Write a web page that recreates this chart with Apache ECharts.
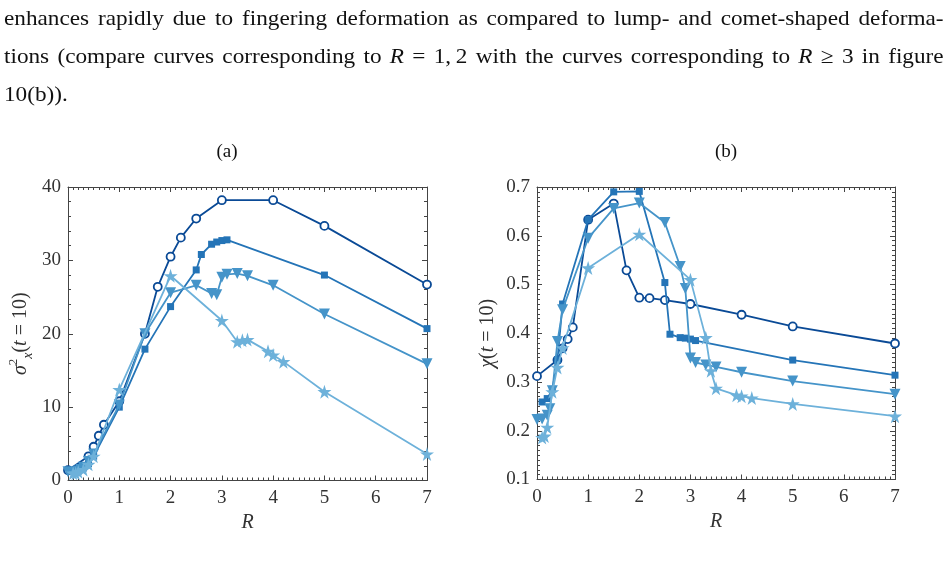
<!DOCTYPE html>
<html>
<head>
<meta charset="utf-8">
<script src="https://cdn.jsdelivr.net/npm/echarts@6/dist/echarts.min.js"></script>
<style>
  html, body { margin: 0; padding: 0; background: #fff; overflow: hidden; }
  #page { position: relative; width: 948px; height: 563px; }
  #chart { position: absolute; left: 0; top: 0; width: 948px; height: 563px; }
  #text { position: absolute; left: 4px; top: -1px; width: 870px;
          transform: scaleX(1.08); transform-origin: 0 0;
          font-family: 'Liberation Serif', serif; font-size: 21.5px; line-height: 38px;
          color: #111; }
  #text .j { text-align: justify; text-align-last: justify; white-space: nowrap; }
</style>
</head>
<body>
<div id="page">
  <div id="chart"></div>
  <div id="text">
    <div class="j">enhances rapidly due to fingering deformation as compared to lump- and comet-shaped deforma-</div>
    <div class="j">tions (compare curves corresponding to <i>R</i> = 1,&#8201;2 with the curves corresponding to <i>R</i> ≥ 3 in figure</div>
    <div>10(b)).</div>
  </div>
</div>
<script>
// R values of each curve
const rCircle   = [0, 0.4, 0.5, 0.6, 0.7, 1, 1.5, 1.75, 2, 2.2, 2.5, 3, 4, 5, 7];
const rSquare   = [0.1, 0.2, 0.3, 0.4, 0.5, 1, 1.5, 2, 2.5, 2.6, 2.8, 2.9, 3, 3.1, 5, 7];
const rTriangle = [0, 0.1, 0.2, 0.25, 0.3, 0.4, 0.5, 1, 1.5, 2, 2.5, 2.8, 2.9, 3, 3.1, 3.3, 3.5, 4, 5, 7];
const rStar     = [0.1, 0.15, 0.2, 0.3, 0.4, 0.5, 1, 2, 3, 3.3, 3.4, 3.5, 3.9, 4, 4.2, 5, 7];

// (a) sigma_x^2(t=10)
const sigCircle   = [1.4, 3.3, 4.6, 6.1, 7.6, 10.8, 20.0, 26.4, 30.5, 33.1, 35.7, 38.2, 38.2, 34.7, 26.7];
const sigSquare   = [1.2, 1.3, 1.7, 2.3, 3.3, 10.0, 17.9, 23.7, 28.7, 30.8, 32.2, 32.5, 32.7, 32.8, 28.0, 20.7];
const sigTriangle = [1.2, 1.1, 1.3, 1.5, 1.8, 2.6, 3.6, 10.3, 20.0, 25.6, 26.6, 25.5, 25.3, 27.7, 28.1, 28.2, 27.9, 26.6, 22.7, 15.9];
const sigStar     = [1.0, 1.0, 1.2, 1.5, 2.2, 3.3, 12.4, 27.9, 21.8, 18.9, 19.1, 19.2, 17.6, 17.1, 16.2, 12.1, 3.6];

// (b) chi(t=10)
const chiCircle   = [0.312, 0.345, 0.369, 0.388, 0.412, 0.633, 0.666, 0.529, 0.473, 0.472, 0.468, 0.460, 0.438, 0.414, 0.379];
const chiSquare   = [0.259, 0.266, 0.285, 0.345, 0.460, 0.633, 0.690, 0.691, 0.504, 0.398, 0.391, 0.390, 0.388, 0.385, 0.345, 0.314];
const chiTriangle = [0.223, 0.224, 0.232, 0.245, 0.282, 0.383, 0.448, 0.595, 0.656, 0.667, 0.627, 0.537, 0.492, 0.349, 0.340, 0.335, 0.331, 0.320, 0.302, 0.275];
const chiStar     = [0.186, 0.189, 0.207, 0.280, 0.330, 0.370, 0.534, 0.603, 0.510, 0.391, 0.323, 0.287, 0.273, 0.271, 0.267, 0.255, 0.230];

const xTicks = [0, 1, 2, 3, 4, 5, 6, 7];

const colors = ['#0a4a96', '#2474b7', '#4594c9', '#6db1da'];
const starPath = 'path://M50,0 L61,35 L98,35 L68,57 L79,91 L50,70 L21,91 L32,57 L2,35 L39,35 Z';
const serif = 'Liberation Serif';
const axisColor = '#444';

function pairs(xs, ys) { return xs.map((x, i) => [x, ys[i]]); }

function makeX(grid, pos, show) {
  return {
    type: 'value', gridIndex: grid, position: pos, min: 0, max: 7, interval: 1,
    axisLine: { show: true, onZero: false, lineStyle: { color: axisColor, width: 1 } },
    axisTick: { show: true, inside: true, length: 5, lineStyle: { color: axisColor } },
    minorTick: { show: true, splitNumber: 10, length: 3, lineStyle: { color: axisColor } },
    splitLine: { show: false },
    axisLabel: { show: show, margin: 8, fontFamily: serif, fontSize: 19, color: '#333',
      formatter: v => xTicks.includes(v) ? String(v) : '' },
    name: show ? 'R' : '', nameLocation: 'middle', nameGap: 30,
    nameTextStyle: { fontFamily: serif, fontStyle: 'italic', fontSize: 20, color: '#333' }
  };
}

function makeY(grid, pos, show, min, max, interval, minorSplit, fmt, name, gap) {
  return {
    type: 'value', gridIndex: grid, position: pos, min: min, max: max, interval: interval,
    axisLine: { show: true, onZero: false, lineStyle: { color: axisColor, width: 1 } },
    axisTick: { show: true, inside: true, length: 5, lineStyle: { color: axisColor } },
    minorTick: { show: true, splitNumber: minorSplit, length: 3, lineStyle: { color: axisColor } },
    splitLine: { show: false },
    axisLabel: { show: show, margin: 7, fontFamily: serif, fontSize: 19, color: '#333', formatter: fmt },
    name: show ? name : '', nameLocation: 'middle', nameGap: gap, nameRotate: 90,
    nameTextStyle: {
      fontFamily: serif, fontSize: 20, color: '#333',
      rich: {
        n: { fontFamily: serif, fontSize: 20, color: '#333', lineHeight: 28 },
        i: { fontFamily: serif, fontStyle: 'italic', fontSize: 20, color: '#333', lineHeight: 28 },
        sup: { fontFamily: serif, fontSize: 13, color: '#333', lineHeight: 28, verticalAlign: 'top' },
        sub: { fontFamily: serif, fontStyle: 'italic', fontSize: 14, color: '#333', lineHeight: 28, verticalAlign: 'bottom' }
      }
    }
  };
}

function lineSeries(xi, yi, data, k) {
  const s = {
    type: 'line', xAxisIndex: xi, yAxisIndex: yi, data: data,
    showAllSymbol: true,
    lineStyle: { color: colors[k], width: 1.8 },
    itemStyle: { color: colors[k] },
    animation: false, silent: true, z: 2 + k
  };
  if (k === 0) {
    s.symbol = 'circle'; s.symbolSize = 8;
    s.itemStyle = { color: '#fff', borderColor: colors[k], borderWidth: 1.8 };
  } else if (k === 1) {
    s.symbol = 'rect'; s.symbolSize = 7;
  } else if (k === 2) {
    s.symbol = 'triangle'; s.symbolSize = 11; s.symbolRotate = 180;
  } else {
    s.symbol = starPath; s.symbolSize = 14;
  }
  return s;
}

const chart = echarts.init(document.getElementById('chart'), null, { renderer: 'canvas' });
chart.setOption({
  backgroundColor: '#fff',
  animation: false,
  title: [
    { text: '(a)', left: 222, top: 138, textAlign: 'center',
      textStyle: { fontFamily: serif, fontSize: 19, fontWeight: 'normal', color: '#111' } },
    { text: '(b)', left: 721, top: 138, textAlign: 'center',
      textStyle: { fontFamily: serif, fontSize: 19, fontWeight: 'normal', color: '#111' } }
  ],
  grid: [
    { left: 68, top: 187, width: 359, height: 293.5 },
    { left: 537, top: 187, width: 358, height: 292.5 }
  ],
  xAxis: [
    makeX(0, 'bottom', true), makeX(0, 'top', false),
    makeX(1, 'bottom', true), makeX(1, 'top', false)
  ],
  yAxis: [
    makeY(0, 'left', true, 0, 40, 10, 5, v => String(v),
      '{i|σ}{sup|2}{sub|x}{n|(}{i|t}{n|\u2005=\u200510)}', 33),
    makeY(0, 'right', false, 0, 40, 10, 5, v => String(v), '', 0),
    makeY(1, 'left', true, 0.1, 0.7, 0.1, 10, v => v.toFixed(1),
      '{i|χ}{n|(}{i|t}{n|\u2005=\u200510)}', 35),
    makeY(1, 'right', false, 0.1, 0.7, 0.1, 10, v => v.toFixed(1), '', 0)
  ],
  series: [
    lineSeries(0, 0, pairs(rCircle, sigCircle), 0),
    lineSeries(0, 0, pairs(rSquare, sigSquare), 1),
    lineSeries(0, 0, pairs(rTriangle, sigTriangle), 2),
    lineSeries(0, 0, pairs(rStar, sigStar), 3),
    lineSeries(2, 2, pairs(rCircle, chiCircle), 0),
    lineSeries(2, 2, pairs(rSquare, chiSquare), 1),
    lineSeries(2, 2, pairs(rTriangle, chiTriangle), 2),
    lineSeries(2, 2, pairs(rStar, chiStar), 3)
  ]
});
</script>
</body>
</html>
